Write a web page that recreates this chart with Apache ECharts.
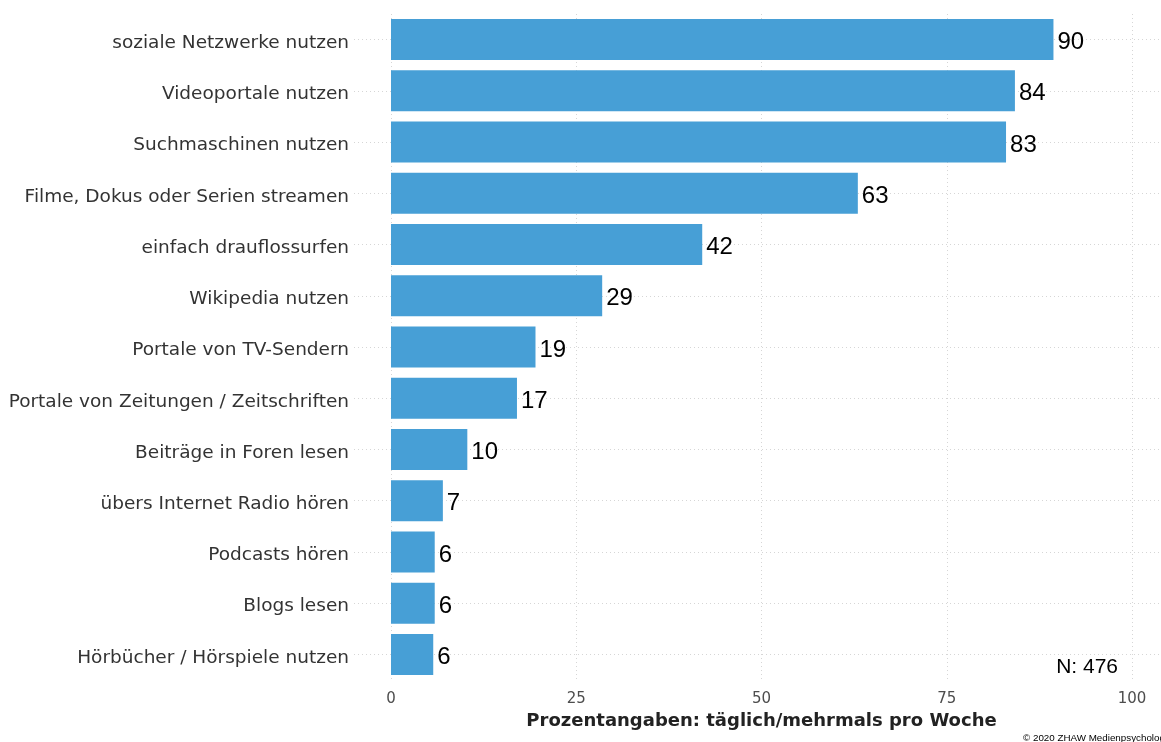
<!DOCTYPE html>
<html>
<head>
<meta charset="utf-8">
<script src="https://cdn.jsdelivr.net/npm/echarts@6/dist/echarts.min.js"></script>
<style>
  html, body { margin: 0; padding: 0; background: #fff; overflow: hidden; }
  #chart { width: 1161px; height: 742px; }
</style>
</head>
<body>
<div id="chart"></div>
<script>
// Kategorien von oben nach unten
const categories = [
  'soziale Netzwerke nutzen',
  'Videoportale nutzen',
  'Suchmaschinen nutzen',
  'Filme, Dokus oder Serien streamen',
  'einfach drauflossurfen',
  'Wikipedia nutzen',
  'Portale von TV-Sendern',
  'Portale von Zeitungen / Zeitschriften',
  'Beiträge in Foren lesen',
  'übers Internet Radio hören',
  'Podcasts hören',
  'Blogs lesen',
  'Hörbücher / Hörspiele nutzen'
]
// Balkenlängen
const values = [89.4, 84.2, 83.0, 63.0, 42.0, 28.5, 19.5, 17.0, 10.3, 7.0, 5.9, 5.9, 5.7]
// Beschriftung wie im Bild
const valueLabels = [90, 84, 83, 63, 42, 29, 19, 17, 10, 7, 6, 6, 6]
const xTicks = [0, 25, 50, 75, 100]
const axisTitle = 'Prozentangaben: täglich/mehrmals pro Woche'
const sampleNote = 'N: 476'
const copyright = '© 2020 ZHAW Medienpsychologie'

const themeFont = '"DejaVu Sans", Verdana, sans-serif'
const labelFont = '"Liberation Sans", Arial, sans-serif'
const gridLine = { color: '#d6d6d6', type: [1, 3], width: 1 }

const chart = echarts.init(document.getElementById('chart'))

chart.setOption({
  animation: false,
  textStyle: { fontFamily: themeFont },
  grid: [
    // ganzes Panel (mit Erweiterung) fuer die horizontalen Gitterlinien
    { left: 354, right: -9, top: 14, bottom: 62 },
    // Skala 0-100
    { left: 391, right: 29, top: 14, bottom: 62 }
  ],
  xAxis: [
    { gridIndex: 0, type: 'value', min: -5, max: 105, show: false },
    {
      gridIndex: 1, type: 'value',
      min: xTicks[0], max: xTicks[xTicks.length - 1], interval: 25,
      axisLine: { show: false },
      axisTick: { show: false },
      axisLabel: { color: '#4d4d4d', fontSize: 15, margin: 12, fontFamily: themeFont },
      splitLine: { show: true, lineStyle: gridLine },
      name: axisTitle,
      nameLocation: 'middle',
      nameGap: 29,
      nameTextStyle: { color: '#222', fontSize: 18, fontWeight: 'bold', fontFamily: themeFont }
    }
  ],
  yAxis: [
    {
      gridIndex: 0, type: 'category', data: categories, inverse: true,
      axisLine: { show: false },
      axisTick: { show: false, alignWithLabel: true },
      axisLabel: { show: false },
      splitLine: { show: true, alignWithLabel: true, lineStyle: gridLine }
    },
    {
      gridIndex: 1, type: 'category', data: categories, inverse: true,
      axisLine: { show: false },
      axisTick: { show: false },
      axisLabel: {
        color: '#333', fontSize: 18.5, margin: 42, fontFamily: themeFont,
        verticalAlign: 'top', lineHeight: 7
      },
      splitLine: { show: false }
    }
  ],
  series: [
    {
      type: 'bar',
      xAxisIndex: 1,
      yAxisIndex: 1,
      data: values,
      barWidth: 41,
      itemStyle: { color: '#479fd6' },
      label: {
        show: true,
        position: 'right',
        distance: 4,
        offset: [0, 3],
        color: '#000',
        fontSize: 24,
        fontFamily: labelFont,
        formatter: p => String(valueLabels[p.dataIndex])
      }
    }
  ],
  graphic: [
    {
      type: 'text', right: 43, top: 657,
      style: { text: sampleNote, font: '21px ' + labelFont, fill: '#000' }
    },
    {
      type: 'text', left: 1023, top: 733,
      style: { text: copyright, font: '9.8px ' + labelFont, fill: '#000' }
    }
  ]
})
</script>
</body>
</html>
